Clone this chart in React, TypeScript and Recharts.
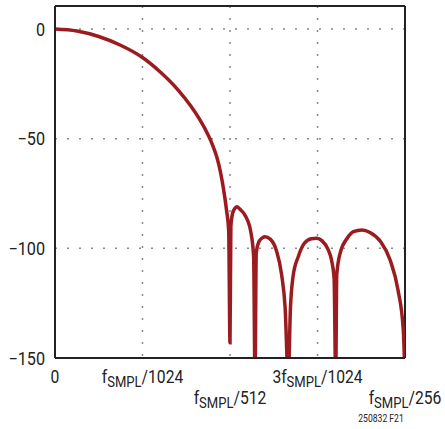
import { LineChart, Line, XAxis, YAxis, CartesianGrid, ReferenceLine } from "recharts";

// frequency in units of fSMPL/1024, gain in dB
const FREQ = [
  0, 0.25, 0.5, 0.75, 1.0, 1.2, 1.4, 1.55, 1.65, 1.75, 1.8, 1.85, 1.89, 1.93, 1.96, 1.985, 2.0,
  2.01, 2.03, 2.06, 2.08, 2.11, 2.18, 2.24, 2.27, 2.286,
  2.3, 2.33, 2.37, 2.4, 2.46, 2.53, 2.59, 2.63, 2.666,
  2.69, 2.72, 2.78, 2.85, 2.93, 2.99, 3.05, 3.12, 3.16, 3.19, 3.208,
  3.22, 3.26, 3.34, 3.41, 3.51, 3.6, 3.72, 3.83, 3.92, 3.98, 4.0,
];
const GAIN_DB = [
  0, -0.9, -3.4, -7.4, -13, -19.5, -27.5, -35, -41, -48.3, -52.8, -58.5, -65, -74, -82.5, -92, -143,
  -90, -84, -81.5, -81, -82, -85.5, -93, -103.8, -160,
  -102, -97, -95.2, -94.7, -95.8, -101, -112, -127, -160,
  -128, -113, -103.8, -97.7, -95.6, -95.4, -96.5, -100.5, -105.3, -114, -160,
  -112, -102, -95.4, -92.4, -91.6, -92.8, -96.9, -105.3, -119, -137, -160,
];

const X_TICKS = [0, 1, 2, 3, 4];
const X_PREFIX = ["0", "f", "f", "3f", "f"];
const X_SUFFIX = ["", "/1024", "/512", "/1024", "/256"];
const Y_TICKS = [-150, -100, -50, 0];

const data = FREQ.map((f, i) => ({ f, g: GAIN_DB[i] }));

const FONT = "Roboto, 'Liberation Sans', sans-serif";
const INK = "#222";

function FreqTick({ x, y, payload }: any) {
  const i = X_TICKS.indexOf(payload.value);
  const row = i === 2 || i === 4 ? 1 : 0;
  const baseY = y + 16.5 + row * 21.5;
  return (
    <g transform={`translate(${x},${baseY}) scale(0.87,1)`}>
      <text x={0} y={0} textAnchor="middle" fontSize={18} fill={INK} fontFamily={FONT}>
        <tspan>{X_PREFIX[i]}</tspan>
        {i > 0 && <tspan dy={4} fontSize={15}>SMPL</tspan>}
        {i > 0 && <tspan dy={-4}>{X_SUFFIX[i]}</tspan>}
      </text>
    </g>
  );
}

function GainTick({ x, y, payload }: any) {
  const v = payload.value as number;
  const label = v < 0 ? "\u2212" + Math.abs(v) : String(v);
  return (
    <g transform={`translate(${x},${y + 6.5}) scale(0.9,1)`}>
      <text x={0} y={0} textAnchor="end" fontSize={18} fill={INK} fontFamily={FONT}>
        {label}
      </text>
    </g>
  );
}

export default function App() {
  return (
    <div style={{ position: "absolute", left: 0, top: 0, width: 445, height: 429, background: "#fff" }}>
      <LineChart width={445} height={429} data={data} margin={{ top: 6, right: 40, bottom: 0, left: 0 }}>
        <CartesianGrid stroke="#888" strokeWidth={1.5} strokeDasharray="2 10" />
        <XAxis
          dataKey="f"
          type="number"
          domain={[0, 4]}
          ticks={X_TICKS}
          allowDataOverflow
          height={71}
          tickLine={false}
          tickSize={0}
          tickMargin={8}
          axisLine={{ stroke: INK, strokeWidth: 2 }}
          tick={<FreqTick />}
          interval={0}
        />
        <YAxis
          type="number"
          domain={[-150, 10.5]}
          ticks={Y_TICKS}
          allowDataOverflow
          width={55}
          tickLine={false}
          tickSize={0}
          tickMargin={10}
          axisLine={{ stroke: INK, strokeWidth: 2 }}
          tick={<GainTick />}
        />
        <ReferenceLine y={10.5} stroke={INK} strokeWidth={2} ifOverflow="visible" />
        <ReferenceLine x={4} stroke={INK} strokeWidth={2} ifOverflow="visible" />
        <Line
          type="monotone"
          dataKey="g"
          stroke="#9b1c20"
          strokeWidth={3.5}
          dot={false}
          isAnimationActive={false}
        />
      </LineChart>
      <div
        style={{
          position: "absolute",
          left: 331,
          top: 413,
          width: 100,
          textAlign: "center",
          fontSize: 10,
          lineHeight: "12px",
          fontFamily: FONT,
          color: INK,
          whiteSpace: "nowrap",
          transform: "scaleX(0.86)",
        }}
      >
        250832 F21
      </div>
    </div>
  );
}
